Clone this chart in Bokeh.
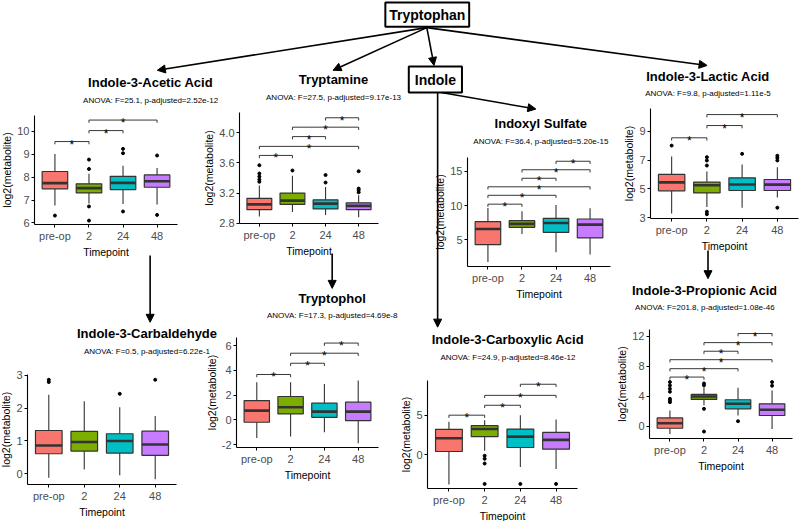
from bokeh.plotting import figure
from bokeh.models import Range1d, FixedTicker, Arrow, NormalHead
from bokeh.layouts import column
from bokeh.core.properties import value
from bokeh.embed import file_html
from bokeh.resources import INLINE

FONT = "Liberation Sans"

categories = ["pre-op", "2", "24", "48"]
box_colors = ["#F8766D", "#7CAE00", "#00BFC4", "#C77CFF"]

# box stats per timepoint: [lower whisker, q1, median, q3, upper whisker]
iaa_box = [[6.76, 7.49, 7.74, 8.25, 9.02], [6.85, 7.31, 7.52, 7.71, 8.15],
           [6.83, 7.46, 7.75, 8.04, 8.50], [6.80, 7.56, 7.82, 8.10, 8.40]]
iaa_out = [[6.32], [8.77, 8.36, 6.72, 6.10], [9.24, 9.05, 6.50], [8.95, 6.35]]
iaa_sig = [("pre-op", "2", 9.56), ("2", "24", 10.04), ("2", "48", 10.5)]
iaa_anova = "ANOVA: F=25.1, p-adjusted=2.52e-12"
iaa_yticks = [6, 7, 8, 9, 10]
iaa_ylabels = ["6", "7", "8", "9", "10"]

tam_box = [[2.89, 2.98, 3.05, 3.13, 3.30], [2.95, 3.05, 3.10, 3.20, 3.43],
           [2.91, 2.99, 3.06, 3.11, 3.28], [2.88, 2.98, 3.03, 3.07, 3.17]]
tam_out = [[3.35, 3.38, 3.42, 3.46, 3.57], [3.50], [3.34, 3.44], [3.21, 3.24, 3.26, 3.49]]
tam_sig = [("pre-op", "2", 3.70), ("pre-op", "48", 3.82), ("2", "24", 3.95),
           ("2", "48", 4.075), ("24", "48", 4.20)]
tam_anova = "ANOVA: F=27.5, p-adjusted=9.17e-13"
tam_yticks = [2.8, 3.2, 3.6, 4.0]
tam_ylabels = ["2.8", "3.2", "3.6", "4.0"]

ixs_box = [[1.70, 4.27, 6.56, 7.63, 9.63], [5.83, 6.80, 7.30, 7.78, 9.15],
           [3.15, 6.07, 7.44, 8.12, 10.07], [2.80, 5.24, 7.20, 8.02, 9.60]]
ixs_out = [[], [], [], []]
ixs_sig = [("pre-op", "2", 10.2), ("pre-op", "24", 11.5), ("pre-op", "48", 12.75),
           ("2", "24", 14.0), ("2", "48", 15.25), ("24", "48", 16.5)]
ixs_anova = "ANOVA: F=36.4, p-adjusted=5.20e-15"
ixs_yticks = [5, 10, 15]
ixs_ylabels = ["5", "10", "15"]

ila_box = [[3.30, 4.87, 5.45, 6.00, 7.25], [3.75, 4.72, 5.25, 5.47, 6.20],
           [3.70, 4.89, 5.31, 5.77, 6.69], [4.40, 4.89, 5.30, 5.65, 6.50]]
ila_out = [[8.0], [6.62, 6.97, 7.20, 3.42, 3.25], [7.43], [7.30, 7.15, 6.97, 3.70]]
ila_sig = [("pre-op", "2", 8.54), ("2", "24", 9.39), ("2", "48", 10.15)]
ila_anova = "ANOVA: F=9.8, p-adjusted=1.11e-5"
ila_yticks = [3, 5, 7, 9]
ila_ylabels = ["3", "5", "7", "9"]

i3a_box = [[-0.12, 0.61, 0.86, 1.32, 2.41], [0.13, 0.69, 0.97, 1.29, 2.21],
           [-0.05, 0.63, 1.00, 1.22, 2.03], [-0.17, 0.56, 0.89, 1.30, 1.76]]
i3a_out = [[2.80, 2.87], [], [2.44], [2.87]]
i3a_sig = []
i3a_anova = "ANOVA: F=0.5, p-adjusted=6.22e-1"
i3a_yticks = [0, 1, 2, 3]
i3a_ylabels = ["0", "1", "2", "3"]

tol_box = [[-1.47, -0.20, 0.74, 1.55, 3.04], [-1.36, 0.47, 1.01, 1.88, 3.04],
           [-1.00, 0.20, 0.66, 1.34, 2.90], [-1.90, -0.06, 0.66, 1.42, 3.17]]
tol_out = [[], [], [], []]
tol_sig = [("pre-op", "2", 3.66), ("2", "24", 4.57), ("2", "48", 5.38), ("24", "48", 6.2)]
tol_anova = "ANOVA: F=17.3, p-adjusted=4.69e-8"
tol_yticks = [-2, 0, 2, 4, 6]
tol_ylabels = ["-2", "0", "2", "4", "6"]

ica_box = [[-3.75, 0.42, 2.08, 3.21, 4.17], [0.50, 2.29, 3.25, 3.67, 4.37],
           [-1.54, 0.92, 2.29, 3.25, 5.00], [-1.80, 0.71, 1.88, 2.83, 4.46]]
ica_out = [[], [-0.12, -0.50, -1.10, -3.67], [-3.67], [-3.67]]
ica_sig = [("pre-op", "2", 5.0), ("2", "24", 6.25), ("2", "48", 7.5), ("24", "48", 8.9)]
ica_anova = "ANOVA: F=24.9, p-adjusted=8.46e-12"
ica_yticks = [0, 5]
ica_ylabels = ["0", "5"]

ipa_box = [[-1.04, -0.28, 0.39, 1.10, 2.09], [2.80, 3.56, 3.96, 4.23, 5.20],
           [1.42, 2.31, 2.98, 3.52, 5.13], [-0.37, 1.42, 2.18, 2.98, 4.77]]
ipa_out = [[3.20, 3.43, 3.65, 4.60, 5.00, 5.44, 5.88], [5.45, 5.70, 2.31, -0.72],
           [0.66], [5.40, 5.88]]
ipa_sig = [("pre-op", "2", 6.55), ("pre-op", "24", 7.67), ("pre-op", "48", 8.87),
           ("2", "24", 10.0), ("2", "48", 11.15), ("24", "48", 12.36)]
ipa_anova = "ANOVA: F=201.8, p-adjusted=1.08e-46"
ipa_yticks = [0, 4, 8, 12]
ipa_ylabels = ["0", "4", "8", "12"]

L, R, T, B = 55, 8, 12, 45


def make_panel(box, out, sig, yticks, ylabels, ylim, frame):
    fx, fy, fw, fh = frame
    pos = list(range(1, len(categories) + 1))
    p = figure(width=L + fw + R, height=T + fh + B, title=None,
               x_range=Range1d(0.4, len(categories) + 0.6), y_range=Range1d(*ylim),
               output_backend="svg", toolbar_location=None,
               min_border_left=L, min_border_right=R, min_border_top=T, min_border_bottom=B,
               background_fill_color=None, border_fill_color=None, outline_line_color=None,
               styles={"position": "absolute", "left": f"{fx - L}px", "top": f"{fy - T}px"})
    p.grid.visible = False
    lw = [b[0] for b in box]
    q1 = [b[1] for b in box]
    md = [b[2] for b in box]
    q3 = [b[3] for b in box]
    uw = [b[4] for b in box]
    edge = "#333333"
    p.segment(pos, q3, pos, uw, line_color=edge, line_width=1.1)
    p.segment(pos, lw, pos, q1, line_color=edge, line_width=1.1)
    p.vbar(x=pos, width=0.75, top=q3, bottom=q1, fill_color=box_colors,
           line_color=edge, line_width=1.2)
    p.segment([x - 0.375 for x in pos], md, [x + 0.375 for x in pos], md,
              line_color=edge, line_width=2.6)
    ox, oy = [], []
    for x, vals in zip(pos, out):
        ox += [x] * len(vals)
        oy += vals
    p.scatter(ox, oy, size=3, color="black")
    tip = 0.025 * (ylim[1] - ylim[0])
    for a, b, y in sig:
        x1 = categories.index(a) + 1
        x2 = categories.index(b) + 1
        p.segment([x1, x1, x2], [y - tip, y, y], [x1, x2, x2], [y, y, y - tip],
                  line_color="#222222", line_width=0.9)
        p.text(x=[(x1 + x2) / 2], y=[y], text=["*"], text_align="center",
               text_baseline="alphabetic", y_offset=3, text_font=value(FONT),
               text_font_size="12px", text_color="black")
    p.xaxis.ticker = FixedTicker(ticks=pos)
    p.xaxis.major_label_overrides = {x: c for x, c in zip(pos, categories)}
    p.yaxis.ticker = FixedTicker(ticks=yticks)
    p.yaxis.major_label_overrides = {t: s for t, s in zip(yticks, ylabels)}
    p.xaxis.axis_label = "Timepoint"
    p.yaxis.axis_label = "log2(metabolite)"
    for ax in (p.xaxis[0], p.yaxis[0]):
        ax.axis_line_color = "black"
        ax.axis_line_width = 1.1
        ax.major_tick_line_color = "black"
        ax.major_tick_in = 0
        ax.major_tick_out = 3
        ax.minor_tick_line_color = None
        ax.major_label_text_font = FONT
        ax.major_label_text_font_size = "11px"
        ax.major_label_text_color = "#4D4D4D"
        ax.major_label_standoff = 2
        ax.axis_label_text_font = FONT
        ax.axis_label_text_font_size = "10.5px"
        ax.axis_label_text_font_style = "normal"
        ax.axis_label_text_color = "black"
        ax.axis_label_standoff = 1
    return p


panels_spec = [
    ("Indole-3-Acetic Acid", iaa_anova, iaa_box, iaa_out, iaa_sig, iaa_yticks, iaa_ylabels, (5.93, 10.7), (34, 115, 143, 109)),
    ("Tryptamine", tam_anova, tam_box, tam_out, tam_sig, tam_yticks, tam_ylabels, (2.796, 4.27), (239, 112, 139, 111)),
    ("Indoxyl Sulfate", ixs_anova, ixs_box, ixs_out, ixs_sig, ixs_yticks, ixs_ylabels, (1.05, 17.05), (467, 157, 143, 109)),
    ("Indole-3-Lactic Acid", ila_anova, ila_box, ila_out, ila_sig, ila_yticks, ila_ylabels, (2.95, 10.57), (650, 108, 148, 110)),
    ("Indole-3-Carbaldehyde", i3a_anova, i3a_box, i3a_out, i3a_sig, i3a_yticks, i3a_ylabels, (-0.33, 3.03), (27, 374, 149, 110)),
    ("Tryptophol", tol_anova, tol_box, tol_out, tol_sig, tol_yticks, tol_ylabels, (-2.24, 6.65), (236, 337, 142, 110)),
    ("Indole-3-Carboxylic Acid", ica_anova, ica_box, ica_out, ica_sig, ica_yticks, ica_ylabels, (-4.25, 9.375), (427, 380, 150, 108)),
    ("Indole-3-Propionic Acid", ipa_anova, ipa_box, ipa_out, ipa_sig, ipa_yticks, ipa_ylabels, (-1.65, 12.9), (649, 329, 143, 109)),
]

# background canvas for the pathway diagram (pixel coordinates of the page)
bg = figure(width=800, height=521, title=None, x_range=Range1d(0, 800), y_range=Range1d(521, 0),
            output_backend="svg", toolbar_location=None, min_border=0,
            x_axis_location=None, y_axis_location=None, outline_line_color=None,
            background_fill_color=None, border_fill_color="white",
            styles={"position": "absolute", "left": "0px", "top": "0px"})
bg.grid.visible = False

# node boxes
bg.quad(left=[366, 392], right=[459, 451], top=[2, 68], bottom=[27, 95],
        fill_color="white", line_color="black", line_width=2)
bg.text(x=[412.5, 421.5], y=[15, 82], text=["Tryptophan", "Indole"], text_align="center",
        text_baseline="middle", text_font=value(FONT), text_font_style="bold",
        text_font_size="14px", text_color="black")

arrows = [((412, 28), (113, 72)), ((412, 28), (308, 72)), ((412, 28), (420, 67)),
          ((412, 28), (723, 67)), ((428, 95), (533, 112)), ((424, 95), (424, 337)),
          ((105, 263), (105, 332)), ((307, 261), (307, 297)), ((724, 258), (724, 287))]
for (xs, ys), (xe, ye) in arrows:
    bg.add_layout(Arrow(end=NormalHead(size=8, fill_color="black", line_color="black", line_width=1),
                        x_start=xs, y_start=ys, x_end=xe, y_end=ye,
                        line_color="black", line_width=1.6))

tx, ty, sx, sy, ttl, sub = [], [], [], [], [], []
for name, anova, *_rest, frame in panels_spec:
    fx, fy, fw, fh = frame
    cx = fx + fw / 2
    tx.append(cx); ty.append(fy - 30); ttl.append(name)
    sx.append(cx); sy.append(fy - 12); sub.append(anova)
bg.text(x=tx, y=ty, text=ttl, text_align="center", text_baseline="middle",
        text_font=value(FONT), text_font_style="bold", text_font_size="13px", text_color="black")
bg.text(x=sx, y=sy, text=sub, text_align="center", text_baseline="middle",
        text_font=value(FONT), text_font_size="8px", text_color="black")

children = [bg]
for name, anova, box, out, sig, yt, yl, ylim, frame in panels_spec:
    children.append(make_panel(box, out, sig, yt, yl, ylim, frame))

root = column(*children, width=784, height=505,
              styles={"position": "absolute", "left": "0px", "top": "0px"})

open("out.html", "w").write(file_html(root, INLINE))
